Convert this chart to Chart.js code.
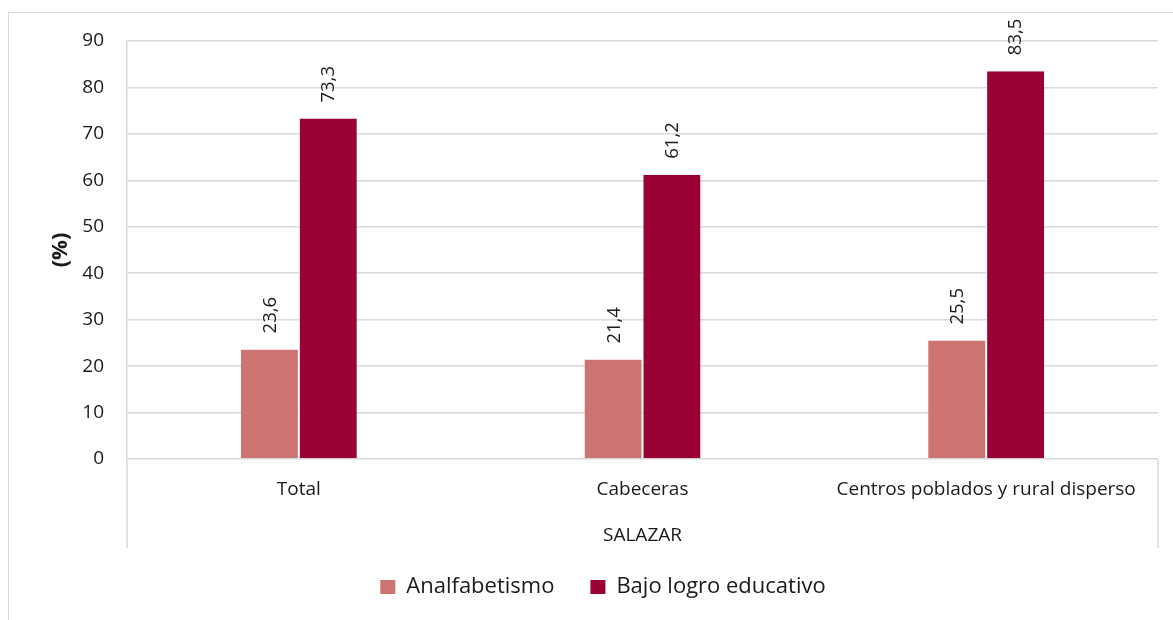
<!DOCTYPE html>
<html>
<head>
<meta charset="utf-8">
<script src="https://cdn.jsdelivr.net/npm/chart.js@4.4.1/dist/chart.umd.min.js"></script>
<style>
  html, body { margin: 0; padding: 0; background: #ffffff; }
  #wrap { width: 1173px; height: 620px; position: relative; }
</style>
</head>
<body>
<div id="wrap"><canvas id="c"></canvas></div>
<script>
const categories = ['Total', 'Cabeceras', 'Centros poblados y rural disperso'];
const groupLabel = 'SALAZAR';
const seriesNames = ['Analfabetismo', 'Bajo logro educativo'];
const analfabetismo = [23.6, 21.4, 25.5];
const bajoLogro = [73.3, 61.2, 83.5];
const yTicks = [0, 10, 20, 30, 40, 50, 60, 70, 80, 90];

const TEXT = '#1a1a1a';
const GRID = '#d9d9d9';
Chart.defaults.font.family = "'Open Sans', 'Noto Sans', sans-serif";
Chart.defaults.color = TEXT;

const fmt = v => v.toFixed(1).replace('.', ',');

const decorPlugin = {
  id: 'decor',
  beforeDraw(chart) {
    const ctx = chart.ctx;
    ctx.save();
    ctx.fillStyle = '#ffffff';
    ctx.fillRect(0, 0, chart.width, chart.height);
    ctx.strokeStyle = GRID;
    ctx.lineWidth = 1;
    ctx.strokeRect(8.5, 12.5, chart.width + 50, chart.height + 50);
    ctx.restore();
  },
  afterDraw(chart) {
    const ctx = chart.ctx;
    const a = chart.chartArea;
    ctx.save();
    // multi-level category axis separators
    ctx.strokeStyle = GRID;
    ctx.lineWidth = 1.5;
    [a.left, a.right].forEach(x => {
      ctx.beginPath();
      ctx.moveTo(x, a.bottom);
      ctx.lineTo(x, a.bottom + 89);
      ctx.stroke();
    });
    // rotated data labels
    ctx.fillStyle = TEXT;
    ctx.font = "18.5px 'Open Sans', 'Noto Sans', sans-serif";
    ctx.textAlign = 'left';
    ctx.textBaseline = 'middle';
    chart.data.datasets.forEach((ds, di) => {
      const meta = chart.getDatasetMeta(di);
      meta.data.forEach((el, i) => {
        ctx.save();
        ctx.translate(el.x + 1, el.y - 16);
        ctx.rotate(-Math.PI / 2);
        ctx.fillText(fmt(ds.data[i]), 0, 0);
        ctx.restore();
      });
    });
    ctx.restore();
  }
};

new Chart(document.getElementById('c'), {
  type: 'bar',
  data: {
    labels: categories,
    datasets: [
      {
        label: seriesNames[0],
        data: analfabetismo,
        backgroundColor: '#cd7372',
        borderColor: '#ffffff',
        borderWidth: { left: 0, right: 1, top: 0, bottom: 0 },
        borderSkipped: false,
        categoryPercentage: 0.3375,
        barPercentage: 1.0
      },
      {
        label: seriesNames[1],
        data: bajoLogro,
        backgroundColor: '#990033',
        borderColor: '#ffffff',
        borderWidth: { left: 1, right: 0, top: 0, bottom: 0 },
        borderSkipped: false,
        categoryPercentage: 0.3375,
        barPercentage: 1.0
      }
    ]
  },
  options: {
    responsive: true,
    maintainAspectRatio: false,
    animation: false,
    layout: { padding: { left: 48, right: 15, top: 41, bottom: 12 } },
    plugins: {
      legend: {
        position: 'bottom',
        labels: {
          boxWidth: 15,
          boxHeight: 14,
          padding: 36,
          color: TEXT,
          font: { size: 22 },
          generateLabels(chart) {
            const items = Chart.defaults.plugins.legend.labels.generateLabels(chart);
            items.forEach(it => { it.lineWidth = 0; it.strokeStyle = 'rgba(0,0,0,0)'; });
            return items;
          }
        }
      },
      tooltip: { enabled: false }
    },
    scales: {
      x: {
        grid: { display: false, drawTicks: false },
        border: { display: false },
        ticks: { color: TEXT, font: { size: 19 }, padding: 19, maxRotation: 0, autoSkip: false },
        title: { display: true, text: groupLabel, color: TEXT, font: { size: 19, lineHeight: 0.5 }, padding: { top: 0, bottom: 0 } },
        afterFit(scale) { scale.height = 81; }
      },
      y: {
        min: 0,
        max: 90,
        afterBuildTicks(scale) { scale.ticks = yTicks.map(v => ({ value: v })); },
        grid: { color: GRID, lineWidth: 1.5, drawTicks: false },
        border: { display: true, color: GRID, width: 1.5 },
        ticks: { color: TEXT, font: { size: 19 }, padding: 23 },
        title: { display: true, text: '(%)', color: TEXT, font: { size: 22, weight: 'bold' }, padding: { top: 0, bottom: 0 } },
        afterFit(scale) { scale.width = 79; }
      }
    }
  },
  plugins: [decorPlugin]
});
</script>
</body>
</html>
